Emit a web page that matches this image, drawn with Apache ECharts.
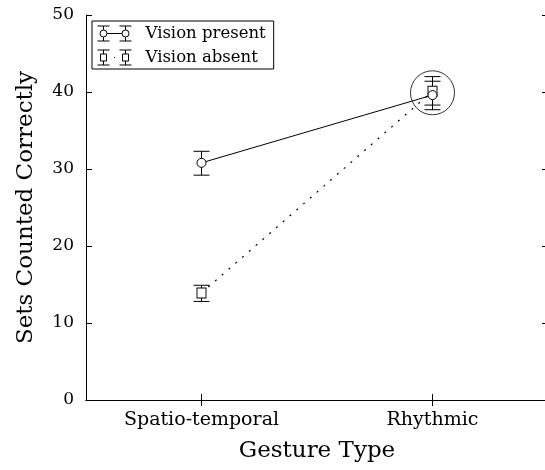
<!DOCTYPE html>
<html>
<head>
<meta charset="utf-8">
<script src="https://cdn.jsdelivr.net/npm/echarts@6/dist/echarts.min.js"></script>
<style>
html,body{margin:0;padding:0;background:#fff;overflow:hidden;}
#chart{width:545px;height:470px;}
</style>
</head>
<body>
<div id="chart"></div>
<script>
// ---- data ----
const categories = ['Spatio-temporal', 'Rhythmic'];
const seriesNames = ['Vision present', 'Vision absent'];
const presentMean = [30.8, 39.6];
const presentLow  = [29.2, 37.7];
const presentHigh = [32.3, 41.4];
const absentMean  = [13.9, 40.1];
const absentLow   = [12.8, 38.3];
const absentHigh  = [14.9, 42.0];
const highlightPoint = [[1, 39.9]];
const yTicks = [0, 10, 20, 30, 40, 50];

const FONT = 'DejaVu Serif';
const BLACK = '#000';

const presentIcon = 'path://M0 0.5H12M0 15.5H12M6 0.5V4.5M6 11.5V15.5M9.5 8A3.5 3.5 0 1 1 2.5 8A3.5 3.5 0 1 1 9.5 8ZM9.5 8H24.5M22 0.5H34M22 15.5H34M28 0.5V4.5M28 11.5V15.5M31.5 8A3.5 3.5 0 1 1 24.5 8A3.5 3.5 0 1 1 31.5 8Z';
const absentIcon = 'path://M0 0.5H12M0 15.5H12M6 0.5V4.5M6 11.5V15.5M3 4.5H9V11.5H3ZM16.5 8H17.5M22 0.5H34M22 15.5H34M28 0.5V4.5M28 11.5V15.5M25 4.5H31V11.5H25Z';

function errorBarSeries(low, high, name) {
  return {
    type: 'custom',
    name: name,
    xAxisIndex: 0, yAxisIndex: 0,
    z: 1,
    silent: true,
    data: categories.map((c, i) => [i, low[i], high[i]]),
    renderItem: function (params, api) {
      const x = api.value(0);
      const lo = api.coord([x, api.value(1)]);
      const hi = api.coord([x, api.value(2)]);
      const w = 8;
      const st = { stroke: BLACK, lineWidth: 1, fill: null };
      return {
        type: 'group',
        children: [
          { type: 'line', shape: { x1: lo[0], y1: lo[1], x2: hi[0], y2: hi[1] }, style: st },
          { type: 'line', shape: { x1: lo[0] - w, y1: lo[1], x2: lo[0] + w, y2: lo[1] }, style: st },
          { type: 'line', shape: { x1: hi[0] - w, y1: hi[1], x2: hi[0] + w, y2: hi[1] }, style: st }
        ]
      };
    }
  };
}

const chart = echarts.init(document.getElementById('chart'), null, { renderer: 'canvas' });

const axisCommon = {
  axisLine: { show: true, lineStyle: { color: BLACK, width: 1 } },
  axisTick: { show: true, inside: true, length: 6, lineStyle: { color: BLACK } },
  splitLine: { show: false }
};

chart.setOption({
  animation: false,
  backgroundColor: '#fff',
  grid: { left: 86, width: 462, top: 15, bottom: 70, outerBoundsMode: 'none', containLabel: false },
  legend: {
    orient: 'vertical',
    left: 92, top: 21,
    padding: [4, 8, 3, 5],
    itemGap: 7,
    itemWidth: 34, itemHeight: 16,
    borderColor: BLACK, borderWidth: 1, borderRadius: 0,
    backgroundColor: '#fff',
    itemStyle: { color: '#fff', borderColor: BLACK, borderWidth: 1 },
    textStyle: { fontFamily: FONT, fontSize: 16.5, color: BLACK, padding: [0, 0, 0, 9] },
    data: [
      { name: seriesNames[0], icon: presentIcon },
      { name: seriesNames[1], icon: absentIcon }
    ]
  },
  xAxis: [
    Object.assign({}, axisCommon, {
      type: 'category', data: categories, position: 'bottom', boundaryGap: true,
      axisTick: { show: true, inside: true, alignWithLabel: true, length: 6, lineStyle: { color: BLACK } },
      axisLabel: { color: BLACK, fontFamily: FONT, fontSize: 19, margin: 11 },
      name: 'Gesture Type', nameLocation: 'middle', nameGap: 40,
      nameTextStyle: { color: BLACK, fontFamily: FONT, fontSize: 23 }
    }),
    Object.assign({}, axisCommon, {
      type: 'category', data: categories, position: 'top', boundaryGap: true,
      axisTick: { show: true, inside: true, alignWithLabel: true, length: 6, lineStyle: { color: BLACK } },
      axisLabel: { show: false }
    })
  ],
  yAxis: [
    Object.assign({}, axisCommon, {
      type: 'value', min: yTicks[0], max: yTicks[yTicks.length - 1], interval: 10, position: 'left',
      axisLabel: { color: BLACK, fontFamily: FONT, fontSize: 17, margin: 12 },
      name: 'Sets Counted Correctly', nameLocation: 'middle', nameGap: 48,
      nameTextStyle: { color: BLACK, fontFamily: FONT, fontSize: 23 }
    }),
    Object.assign({}, axisCommon, {
      type: 'value', min: yTicks[0], max: yTicks[yTicks.length - 1], interval: 10, position: 'right',
      axisLabel: { show: false }
    })
  ],
  series: [
    errorBarSeries(presentLow, presentHigh, seriesNames[0]),
    errorBarSeries(absentLow, absentHigh, seriesNames[1]),
    {
      type: 'line', name: seriesNames[0], data: presentMean,
      xAxisIndex: 0, yAxisIndex: 0, z: 3,
      symbol: 'circle', symbolSize: 9,
      lineStyle: { color: BLACK, width: 1, type: 'solid' },
      itemStyle: { color: '#fff', borderColor: BLACK, borderWidth: 1 }
    },
    {
      type: 'line', name: seriesNames[1], data: absentMean,
      xAxisIndex: 0, yAxisIndex: 0, z: 2,
      symbol: 'rect', symbolSize: [9, 10],
      lineStyle: { color: BLACK, width: 1.2, type: [2, 7] },
      itemStyle: { color: '#fff', borderColor: BLACK, borderWidth: 1 }
    },
    {
      type: 'scatter', name: 'highlight', data: highlightPoint,
      xAxisIndex: 0, yAxisIndex: 0, z: 4, silent: true,
      symbol: 'circle', symbolSize: 44,
      itemStyle: { color: 'rgba(0,0,0,0)', borderColor: BLACK, borderWidth: 1 }
    }
  ]
});
</script>
</body>
</html>
